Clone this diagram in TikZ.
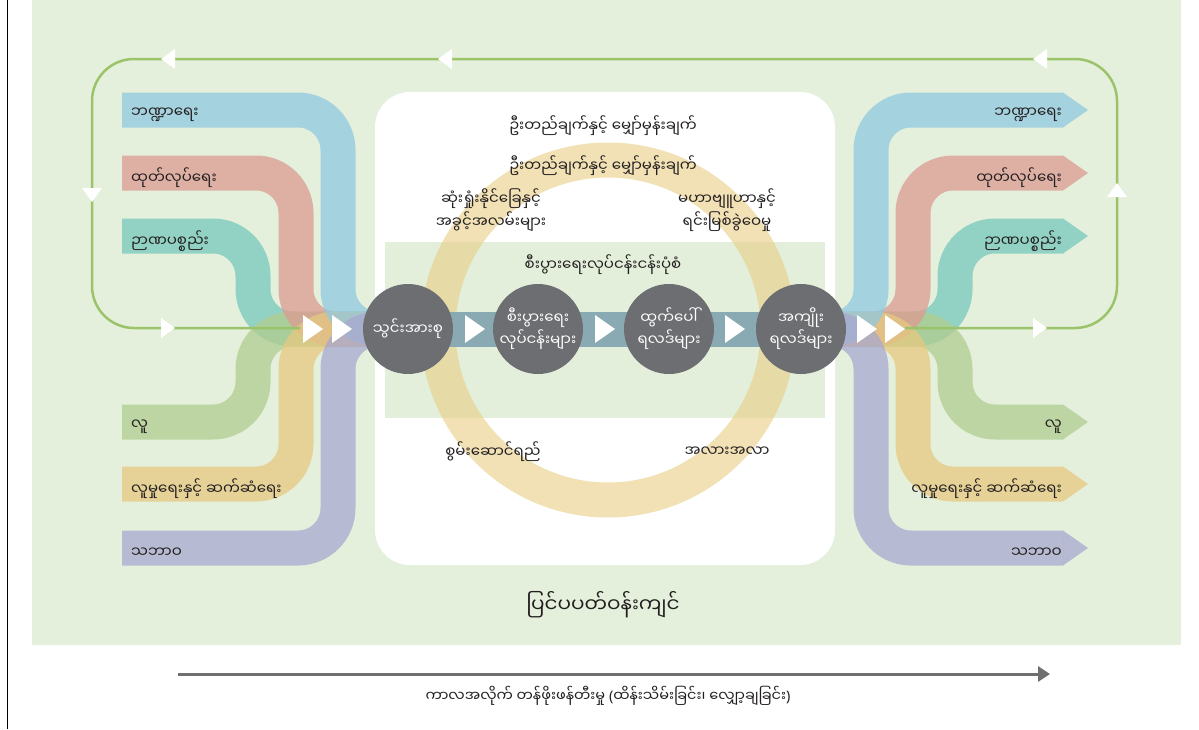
\documentclass[tikz,border=0pt]{standalone}
\usepackage{fontspec}
\usetikzlibrary{arrows.meta}
\newfontfamily\mmfont[Script=Myanmar]{Noto Sans Myanmar UI}
\newfontfamily\latinfont{Noto Sans}

\definecolor{bggreen}{RGB}{228,240,220}
\definecolor{innergreen}{RGB}{227,239,218}
\definecolor{ink}{RGB}{35,31,32}
\definecolor{discgrey}{RGB}{109,110,113}
\definecolor{pipecol}{RGB}{137,170,178}
\definecolor{loopcol}{RGB}{155,195,106}
\definecolor{ringcol}{RGB}{233,205,133}
\definecolor{axisgrey}{RGB}{112,112,114}
\definecolor{sblue}{RGB}{144,201,225}
\definecolor{sred}{RGB}{220,155,145}
\definecolor{steal}{RGB}{119,201,189}
\definecolor{sgreen}{RGB}{177,205,143}
\definecolor{syellow}{RGB}{231,201,128}
\definecolor{slav}{RGB}{169,168,208}

\tikzset{
  txt/.style={font=\mmfont\fontsize{15}{23}\selectfont, text=ink, inner sep=0pt,
    align=center, yshift=-3pt},
  lbl/.style={txt, anchor=west},
  rlbl/.style={txt, anchor=east},
  disc/.style={circle, fill=discgrey, minimum size=90pt, inner sep=0pt,
    font=\mmfont\fontsize{15}{22}\selectfont, text=white, align=center},
  stream/.style={line width=35pt, rounded corners=40pt, opacity=.75},
  tip/.style={opacity=.75},
  pipeline/.style={line width=35pt, pipecol},
  loopline/.style={line width=2.5pt, loopcol, rounded corners=42pt},
  triR/.pic={\fill[white] (-10,-14) -- (10,0) -- (-10,14) -- cycle;},
  loopL/.pic={\fill[white] (7,-10) -- (-7,0) -- (7,10) -- cycle;},
  loopR/.pic={\fill[white] (-7,-10) -- (7,0) -- (-7,10) -- cycle;},
  loopD/.pic={\fill[white] (-10,-7) -- (10,-7) -- (0,7) -- cycle;},
  loopU/.pic={\fill[white] (-10,7) -- (10,7) -- (0,-7) -- cycle;},
}

\begin{document}
\begin{tikzpicture}[x=1pt,y=-1pt]
\useasboundingbox (0,0) rectangle (1199,729);
\fill[white] (0,0) rectangle (1199,729);
\fill[bggreen] (32,0) rectangle (1181,645);
\draw[line width=1pt, black] (7,0) -- (7,729);

% central panel
\fill[white, rounded corners=35pt] (375,92) rectangle (835,565);
\fill[innergreen] (385,242) rectangle (825,418);
\draw[ringcol, line width=35pt, opacity=.6] (608,330) circle[radius=170];

% capitals flowing in from the left
\draw[stream, steal]   (122,236) -- (253,236) -- (253,329) -- (420,329);
\draw[stream, sgreen]  (122,422) -- (253,422) -- (253,329) -- (420,329);
\draw[stream, sred]    (122,173) -- (296,173) -- (296,329) -- (420,329);
\draw[stream, syellow] (122,484) -- (296,484) -- (296,329) -- (420,329);
\draw[stream, sblue]   (122,110) -- (338,110) -- (338,329) -- (420,329);
\draw[stream, slav]    (122,548) -- (338,548) -- (338,329) -- (420,329);

% capitals flowing out to the right
\draw[stream, steal]   (790,329) -- (955,329) -- (955,236) -- (1063,236);
\draw[stream, sgreen]  (790,329) -- (955,329) -- (955,422) -- (1063,422);
\draw[stream, sred]    (790,329) -- (913,329) -- (913,173) -- (1063,173);
\draw[stream, syellow] (790,329) -- (913,329) -- (913,484) -- (1063,484);
\draw[stream, sblue]   (790,329) -- (871,329) -- (871,110) -- (1063,110);
\draw[stream, slav]    (790,329) -- (871,329) -- (871,548) -- (1063,548);
\foreach \yy/\cc in {110/sblue,173/sred,236/steal,422/sgreen,484/syellow,548/slav}{
  \fill[tip, \cc] (1063,\yy-17.5) -- (1088,\yy) -- (1063,\yy+17.5) -- cycle;
}

% value-creation pipe
\coordinate (p1) at (408,329);
\coordinate (p2) at (538,329);
\coordinate (p3) at (669,329);
\coordinate (p4) at (801,329);
\draw[pipeline] (p1) -- (p4);

% feedback loop
\coordinate (la) at (300,328);
\coordinate (lb) at (905,328);
\draw[loopline] (la) -- (92,328) -- (92,59) -- (1117,59) -- (1117,328) -- (lb);
\pic at (168,59) {loopL};
\pic at (445,59) {loopL};
\pic at (1040,59) {loopL};
\pic at (92,195) {loopD};
\pic at (1117,190) {loopU};
\pic at (168,328) {loopR};
\pic at (1040,328) {loopR};

% flow arrows
\foreach \xx in {313,342,475,605,735,867,895}{ \pic at (\xx,329) {triR}; }

% stages
\node[disc] (inputs)   at (p1) {သွင်းအားစု};
\node[disc] (business) at (p2) {စီးပွားရေး\\လုပ်ငန်းများ};
\node[disc] (outputs)  at (p3) {ထွက်ပေါ်\\ရလဒ်များ};
\node[disc] (outcomes) at (p4) {အကျိုး\\ရလဒ်များ};

% left labels
\node[lbl] (lfin)  at (131,112) {ဘဏ္ဍာရေး};
\node[lbl] (lman)  at (131,175) {ထုတ်လုပ်ရေး};
\node[lbl] (lint)  at (131,238) {ဉာဏပစ္စည်း};
\node[lbl] (lhum)  at (131,424) {လူ};
\node[lbl] (lsoc)  at (131,486) {လူမှုရေးနှင့် ဆက်ဆံရေး};
\node[lbl] (lnat)  at (131,550) {သဘာဝ};

% right labels
\node[rlbl] (rfin) at (1062,112) {ဘဏ္ဍာရေး};
\node[rlbl] (rman) at (1062,175) {ထုတ်လုပ်ရေး};
\node[rlbl] (rint) at (1062,238) {ဉာဏပစ္စည်း};
\node[rlbl] (rhum) at (1062,424) {လူ};
\node[rlbl] (rsoc) at (1062,486) {လူမှုရေးနှင့် ဆက်ဆံရေး};
\node[rlbl] (rnat) at (1062,550) {သဘာဝ};

% central texts
\node[txt] (mission1) at (603,123) {ဦးတည်ချက်နှင့် မျှော်မှန်းချက်};
\node[txt] (mission2) at (603,163) {ဦးတည်ချက်နှင့် မျှော်မှန်းချက်};
\node[txt] (risks) at (491,207) {ဆုံးရှုံးနိုင်ခြေနှင့်\\အခွင့်အလမ်းများ};
\node[txt] (strategy) at (727,207) {မဟာဗျူဟာနှင့်\\ရင်းမြစ်ခွဲဝေမှု};
\node[txt] (model) at (603,262) {စီးပွားရေးလုပ်ငန်းငန်းပုံစံ};
\node[txt] (perf) at (493,449) {စွမ်းဆောင်ရည်};
\node[txt] (outlook) at (727,449) {အလားအလာ};

% environment and time axis
\node[txt, font=\mmfont\fontsize{20}{24}\selectfont] (env) at (603,602) {ပြင်ပပတ်ဝန်းကျင်};
\coordinate (ax0) at (178,674);
\coordinate (ax1) at (1050,674);
\draw[line width=3pt, axisgrey, -{Triangle[length=12pt,width=15pt]}] (ax0) -- (ax1);
\node[txt, font=\mmfont\fontsize{14.5}{18}\selectfont] (time) at (608,693)
  {ကာလအလိုက် တန်ဖိုးဖန်တီးမှု {\latinfont(}ထိန်းသိမ်းခြင်း၊ လျှော့ချခြင်း{\latinfont)}};
\end{tikzpicture}
\end{document}
